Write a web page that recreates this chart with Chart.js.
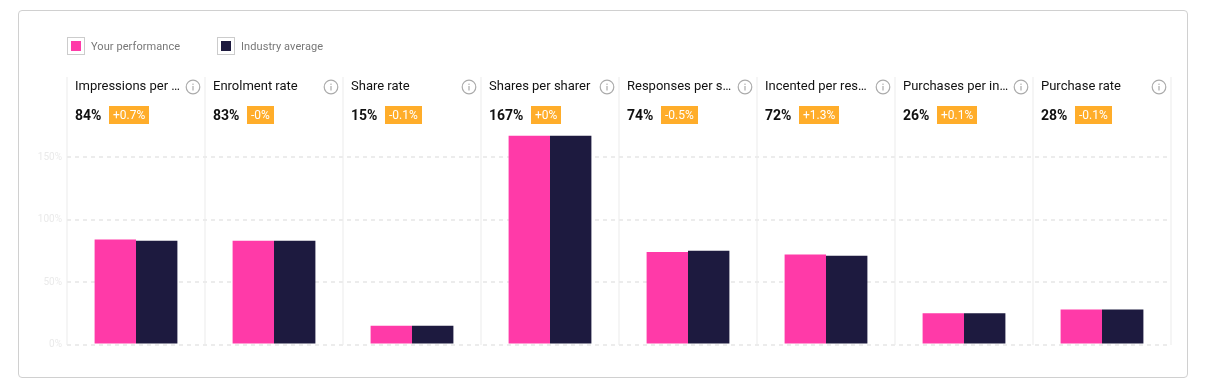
<!DOCTYPE html>
<html lang="en">
<head>
  <meta charset="UTF-8">
  <title>Performance vs industry</title>
  <script src="https://cdn.jsdelivr.net/npm/chart.js"></script>
  <style>
    html, body { margin: 0; padding: 0; background: #fff; }
    body { width: 1212px; height: 392px; overflow: hidden; position: relative; font-family: Roboto, sans-serif; }
    .card { position: absolute; left: 18px; top: 10px; width: 1168px; height: 366px; border: 1px solid #d0d0d0; border-radius: 4px; }
    canvas { position: absolute; left: 0; top: 0; }
    .legend-box { position: absolute; top: 37px; width: 16px; height: 16px; border: 1px solid #ccc; }
    .legend-box i { position: absolute; left: 3px; top: 3px; width: 10px; height: 10px; }
    .legend-text { position: absolute; top: 40px; font-size: 11px; letter-spacing: 0.08px; line-height: 14px; color: #777; white-space: nowrap; }
    .title { position: absolute; top: 78px; font-size: 13px; line-height: 16px; color: #111; white-space: nowrap; }
    .value { position: absolute; top: 106px; font-size: 14px; font-weight: 700; line-height: 18px; color: #111; }
    .badge { position: absolute; top: 106px; height: 18px; line-height: 18px; padding: 0 4px; background: #ffad2a; color: #fff; font-size: 12px; white-space: nowrap; }
    .info { position: absolute; top: 79px; width: 16px; height: 16px; }
  </style>
</head>
<body>
  <div class="card"></div>
  <canvas id="chart" width="1212" height="392"></canvas>
  <div id="overlay"></div>

  <script>
    const categories = ['Impressions per …', 'Enrolment rate', 'Share rate', 'Shares per sharer', 'Responses per s…', 'Incented per res…', 'Purchases per in…', 'Purchase rate'];
    const yourPerformance = [84, 83, 15, 167, 74, 72, 25, 28];
    const industryAverage = [83, 83, 15, 167, 75, 71, 25, 28];
    const shownValues = ['84%', '83%', '15%', '167%', '74%', '72%', '26%', '28%'];
    const shownChanges = ['+0.7%', '-0%', '-0.1%', '+0%', '-0.5%', '+1.3%', '+0.1%', '-0.1%'];
    const yTicks = [0, 50, 100, 150];
    const seriesNames = ['Your performance', 'Industry average'];
    const seriesColors = ['#ff3aa8', '#1d1a3f'];

    const chart = new Chart(document.getElementById('chart'), {
      type: 'bar',
      data: {
        labels: categories,
        datasets: [
          { label: seriesNames[0], data: yourPerformance, backgroundColor: seriesColors[0] },
          { label: seriesNames[1], data: industryAverage, backgroundColor: seriesColors[1] }
        ]
      },
      options: {
        responsive: false,
        animation: false,
        devicePixelRatio: 1,
        layout: { padding: { top: 77, right: 41, bottom: 47.5, left: 0 } },
        plugins: { legend: { display: false }, tooltip: { enabled: false } },
        datasets: { bar: { categoryPercentage: 0.6, barPercentage: 1 } },
        scales: {
          x: {
            offset: true,
            grid: { color: '#f5f5f5', lineWidth: 2, drawTicks: false },
            border: { display: false },
            ticks: { display: false },
            afterFit: s => { s.height = 0; }
          },
          y: {
            min: 0,
            max: 214,
            grid: { color: '#ececec', lineWidth: 2, drawTicks: false },
            border: { display: false, dash: [4, 4] },
            ticks: {
              padding: 5,
              color: '#eaeaea',
              font: { family: 'Roboto', size: 10 },
              callback: v => v + '%'
            },
            afterBuildTicks: s => { s.ticks = yTicks.map(value => ({ value })); },
            afterFit: s => { s.width = 67; }
          }
        }
      }
    });

    const overlay = document.getElementById('overlay');
    function addDiv(cls, left, text) {
      const d = document.createElement('div');
      d.className = cls;
      d.style.left = left + 'px';
      d.textContent = text;
      overlay.appendChild(d);
      return d;
    }

    // legend
    [67, 217].forEach((left, i) => {
      const box = addDiv('legend-box', left, '');
      const dot = document.createElement('i');
      dot.style.background = seriesColors[i];
      box.appendChild(dot);
      addDiv('legend-text', left + 24, seriesNames[i]);
    });

    // column headers, placed from the category scale
    const xs = chart.scales.x;
    const half = xs.getPixelForValue(1) - xs.getPixelForValue(0);
    categories.forEach((name, i) => {
      const col = xs.getPixelForValue(i) - half / 2;
      addDiv('title', col + 8, name);
      const val = addDiv('value', col + 8, shownValues[i]);
      addDiv('badge', col + 8 + val.offsetWidth + 8, shownChanges[i]);
      const icon = addDiv('info', col + 118, '');
      icon.innerHTML = '<svg width="16" height="16" viewBox="0 0 16 16"><circle cx="8" cy="8" r="6.8" fill="none" stroke="#ababab" stroke-width="1.2"/><rect x="7.4" y="7" width="1.2" height="4.5" fill="#ababab"/><rect x="7.4" y="4.6" width="1.2" height="1.3" fill="#ababab"/></svg>';
    });
  </script>
</body>
</html>
